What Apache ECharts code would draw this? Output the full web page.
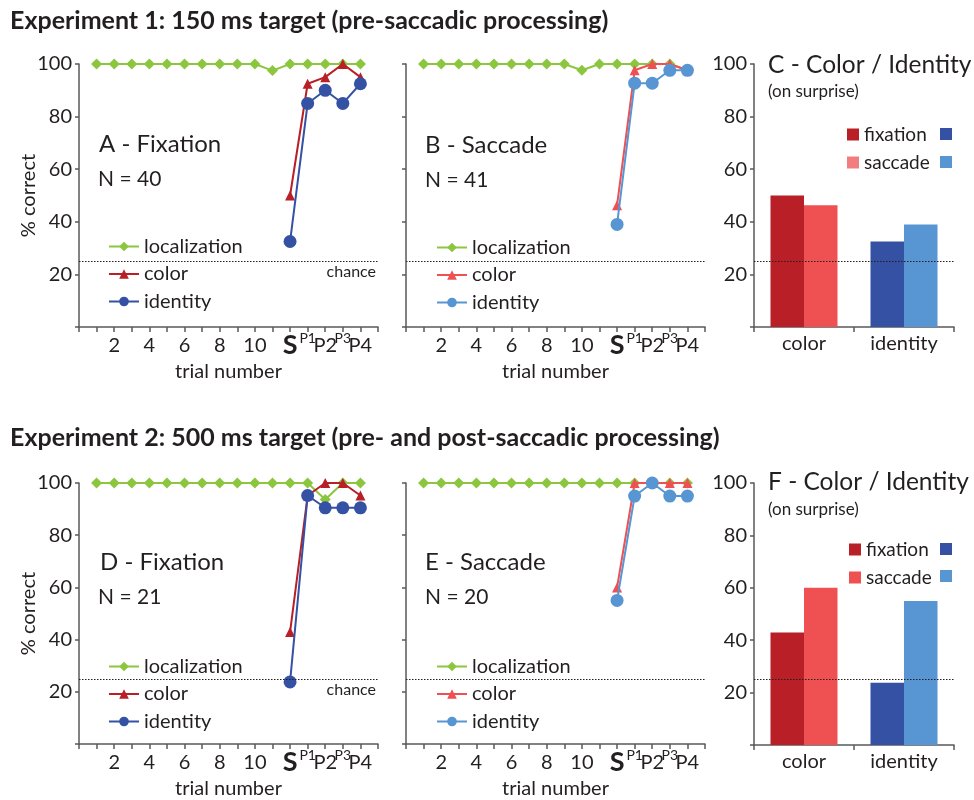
<!DOCTYPE html>
<html>
<head>
<meta charset="utf-8">
<script src="https://cdn.jsdelivr.net/npm/echarts/dist/echarts.min.js"></script>
<style>
html,body{margin:0;padding:0;background:#fff;}
#chart{width:974px;height:800px;}
</style>
</head>
<body>
<div id="chart"></div>
<script>
// ---------- data ----------
const trials = [1,2,3,4,5,6,7,8,9,10,11,12,13,14,15,16];
const surpriseTrials = [12,13,14,15,16];
const xTickPositions = [2,4,6,8,10,12,13,14,15,16];
const xTickLabels = ['2','4','6','8','10','S','P1','P2','P3','P4'];
const barCategories = ['color','identity'];
const chanceLevel = 25;

const expA_localization = [100,100,100,100,100,100,100,100,100,100,97.5,100,100,100,100,100];
const expA_color = [50,92.5,95,100,95];
const expA_identity = [32.5,85,90,85,92.5];

const expB_localization = [100,100,100,100,100,100,100,100,100,97.6,100,100,100,100,100,97.6];
const expB_color = [46.3,97.6,100,100,97.6];
const expB_identity = [39,92.7,92.7,97.6,97.6];

const expC_fixation = [50,32.5];
const expC_saccade = [46.3,39];

const expD_localization = [100,100,100,100,100,100,100,100,100,100,100,100,100,93.7,100,100];
const expD_color = [42.9,95.2,100,100,95.2];
const expD_identity = [23.8,95.2,90.5,90.5,90.5];

const expE_localization = [100,100,100,100,100,100,100,100,100,100,100,100,100,100,100,100];
const expE_color = [60,100,100,100,100];
const expE_identity = [55,95,100,95,95];

const expF_fixation = [42.9,23.8];
const expF_saccade = [60,55];

// ---------- styles ----------
const FONT = 'Lato';
const TXT = '#231f20';
const AXIS = '#58595b';
const GREEN = '#8cc63f';
const DRED = '#b81f26';
const DBLUE = '#3451a3';
const LRED = '#ef5052';
const LBLUE = '#5795d3';
const LPINK = '#f27d7e';

const grids = [
  {left:79, top:64, width:299, height:263},
  {left:406, top:64, width:299, height:263},
  {left:754, top:64, width:200, height:263},
  {left:79, top:483, width:299, height:263},
  {left:406, top:483, width:299, height:263},
  {left:754, top:483, width:200, height:262}
];

const axisLineStyle = {color:AXIS, width:1.5};

function xLabelFmt(v){
  const i = xTickPositions.indexOf(v);
  if (i < 0) return '';
  const t = xTickLabels[i];
  if (t === 'S') return '{s|S}';
  if (t === 'P1' || t === 'P3') return '{sup|' + t + '}';
  return '{n|' + t + '}';
}

function lineXAxis(g){
  return {
    type:'value', gridIndex:g, min:0, max:17, interval:1,
    axisLine:{show:true, onZero:false, lineStyle:axisLineStyle},
    axisTick:{show:true, length:5, lineStyle:axisLineStyle},
    splitLine:{show:false},
    axisLabel:{
      margin:4, formatter:xLabelFmt, hideOverlap:false, showMinLabel:true, showMaxLabel:true,
      rich:{
        n:{fontSize:20, fontFamily:FONT, color:TXT, padding:[5,0,0,0]},
        s:{fontSize:27, fontFamily:FONT, fontWeight:'bold', color:TXT, padding:[1,0,0,0]},
        sup:{fontSize:14, fontFamily:FONT, color:TXT}
      }
    },
    name:'trial number', nameLocation:'middle', nameGap:35, nameMoveOverlap:false,
    nameTextStyle:{fontSize:20, fontFamily:FONT, color:TXT}
  };
}
function barXAxis(g){
  return {
    type:'category', gridIndex:g, data:barCategories,
    axisLine:{show:true, lineStyle:axisLineStyle},
    axisTick:{show:true, length:5, lineStyle:axisLineStyle},
    axisLabel:{margin:7, fontSize:20, fontFamily:FONT, color:TXT}
  };
}
function yAxis(g, showLabels, showName){
  return {
    type:'value', gridIndex:g, min:0, max:100, interval:20,
    axisLine:{show:true, lineStyle:axisLineStyle},
    axisTick:{show:true, length:4, lineStyle:axisLineStyle},
    splitLine:{show:false},
    axisLabel:{show:showLabels, margin:7, fontSize:20, fontFamily:FONT, color:TXT,
      formatter:function(v){return v===0 ? '' : String(v);}},
    name: showName ? '% correct' : '', nameLocation:'middle', nameGap:40, nameMoveOverlap:false,
    nameTextStyle:{fontSize:20, fontFamily:FONT, color:TXT}
  };
}
const chanceMark = {
  silent:true, symbol:['none','none'],
  lineStyle:{type:[1.5,1.5], color:TXT, width:1.2},
  label:{show:false},
  data:[{yAxis:chanceLevel}]
};
function pairs(xs, ys){ return xs.map(function(x,i){return [x, ys[i]];}); }

function lineSeries(p, g, loc, col, ident, colColor, idColor){
  return [
    {name:p+':localization', type:'line', xAxisIndex:g, yAxisIndex:g,
     data:pairs(trials, loc), symbol:'diamond', symbolSize:11,
     itemStyle:{color:GREEN}, lineStyle:{color:GREEN, width:2},
     markLine:chanceMark, z:2},
    {name:p+':color', type:'line', xAxisIndex:g, yAxisIndex:g,
     data:pairs(surpriseTrials, col), symbol:'triangle', symbolSize:10,
     itemStyle:{color:colColor}, lineStyle:{color:colColor, width:2}, z:3},
    {name:p+':identity', type:'line', xAxisIndex:g, yAxisIndex:g,
     data:pairs(surpriseTrials, ident), symbol:'circle', symbolSize:13,
     itemStyle:{color:idColor}, lineStyle:{color:idColor, width:2}, z:4}
  ];
}
function barSeries(p, g, fix, sac){
  return [
    {name:p+':fixation', type:'bar', xAxisIndex:g, yAxisIndex:g,
     barGap:'0%', barCategoryGap:'33%',
     itemStyle:{color:DRED},
     data:fix.map(function(v,i){return {value:v, itemStyle:{color: i===0 ? DRED : DBLUE}};}),
     markLine:chanceMark},
    {name:p+':saccade', type:'bar', xAxisIndex:g, yAxisIndex:g,
     barGap:'0%', barCategoryGap:'33%',
     itemStyle:{color:LRED},
     data:sac.map(function(v,i){return {value:v, itemStyle:{color: i===0 ? LRED : LBLUE}};})}
  ];
}
function lineLegend(p, left, top){
  return {
    left:left, top:top, orient:'vertical', padding:0, itemGap:6.5,
    itemWidth:30, itemHeight:12, selectedMode:false,
    textStyle:{fontSize:20, fontFamily:FONT, color:TXT, lineHeight:21},
    formatter:function(n){return n.split(':')[1];},
    data:[p+':localization', p+':color', p+':identity']
  };
}
function barLegend(p, left, top, sacSwatch){
  return {
    left:left, top:top, orient:'vertical', padding:0, itemGap:7,
    itemWidth:12, itemHeight:12, icon:'rect', selectedMode:false,
    textStyle:{fontSize:19, fontFamily:FONT, color:TXT, lineHeight:21},
    formatter:function(n){return n.split(':')[1];},
    data:[{name:p+':fixation', itemStyle:{color:DRED}}, {name:p+':saccade', itemStyle:{color:sacSwatch}}]
  };
}
function txt(x, y, text, size, weight, align){
  return {type:'text', x:x, y:y, silent:true,
    style:{text:text, fill:TXT, fontSize:size, fontFamily:FONT, fontWeight:weight||'normal',
      align:align||'left', verticalAlign:'middle'}};
}
function swatch(x, y, color){
  return {type:'rect', x:x, y:y, silent:true, shape:{width:12, height:12}, style:{fill:color}};
}

const option = {
  animation:false,
  backgroundColor:'#fff',
  textStyle:{fontFamily:FONT},
  grid:grids,
  xAxis:[lineXAxis(0), lineXAxis(1), barXAxis(2), lineXAxis(3), lineXAxis(4), barXAxis(5)],
  yAxis:[yAxis(0,true,true), yAxis(1,false,false), yAxis(2,true,false),
         yAxis(3,true,true), yAxis(4,false,false), yAxis(5,true,false)],
  legend:[
    lineLegend('A', 108, 236), lineLegend('B', 436, 237), barLegend('C', 847, 124, LPINK),
    lineLegend('D', 108, 656), lineLegend('E', 436, 656), barLegend('F', 849, 539, LRED)
  ],
  series:[].concat(
    lineSeries('A', 0, expA_localization, expA_color, expA_identity, DRED, DBLUE),
    lineSeries('B', 1, expB_localization, expB_color, expB_identity, LRED, LBLUE),
    barSeries('C', 2, expC_fixation, expC_saccade),
    lineSeries('D', 3, expD_localization, expD_color, expD_identity, DRED, DBLUE),
    lineSeries('E', 4, expE_localization, expE_color, expE_identity, LRED, LBLUE),
    barSeries('F', 5, expF_fixation, expF_saccade)
  ),
  graphic:[
    txt(10, 21, 'Experiment 1: 150 ms target (pre-saccadic processing)', 25, 'bold'),
    txt(10, 438, 'Experiment 2: 500 ms target (pre- and post-saccadic processing)', 25, 'bold'),
    txt(99, 144, 'A - Fixation', 24), txt(98, 179, 'N = 40', 21),
    txt(425, 145, 'B - Saccade', 24), txt(425, 180, 'N = 41', 21),
    txt(768, 65, 'C - Color / Identity', 24.5), txt(768, 92, '(on surprise)', 17),
    txt(100, 562, 'D - Fixation', 24), txt(98, 597, 'N = 21', 21),
    txt(425, 562, 'E - Saccade', 24), txt(425, 597, 'N = 20', 21),
    txt(768, 482, 'F - Color / Identity', 24.5), txt(768, 510, '(on surprise)', 17),
    txt(376, 272, 'chance', 16, 'normal', 'right'),
    txt(376, 690, 'chance', 16, 'normal', 'right'),
    swatch(940, 128, DBLUE), swatch(940, 156, LBLUE),
    swatch(940, 543, DBLUE), swatch(940, 570, LBLUE)
  ]
};
const chart = echarts.init(document.getElementById('chart'), null, {renderer:'canvas'});
chart.setOption(option);
</script>
</body>
</html>
